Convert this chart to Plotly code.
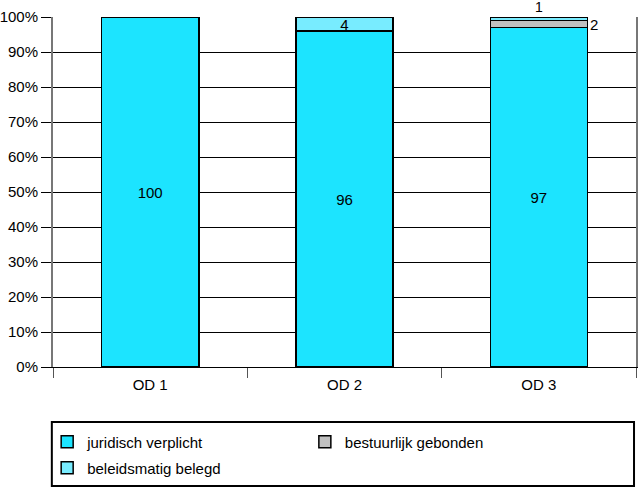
import plotly.graph_objects as go

categories = ["OD 1", "OD 2", "OD 3"]
juridisch = [100, 96, 97]
bestuurlijk = [0, 0, 2]
beleidsmatig = [0, 4, 1]

c_jur = "#1CE4FF"
c_bel = "#78ECFF"
c_bes = "#C0C0C0"
FS = 15

def lbl(vals, show):
    return [str(v) if s else "" for v, s in zip(vals, show)]

fig = go.Figure()
fig.add_trace(go.Bar(
    x=categories, y=juridisch, name="juridisch verplicht",
    marker=dict(color=c_jur, line=dict(color="black", width=1.5)),
    text=lbl(juridisch, [True, True, True]), textposition="inside",
    insidetextanchor="middle", textangle=0, textfont=dict(color="black", size=FS),
    legend="legend",
))
fig.add_trace(go.Bar(
    x=categories, y=bestuurlijk, name="bestuurlijk gebonden",
    marker=dict(color=c_bes, line=dict(color="black", width=1.5)),
    legend="legend2",
))
fig.add_trace(go.Bar(
    x=categories, y=beleidsmatig, name="beleidsmatig belegd",
    marker=dict(color=c_bel, line=dict(color="black", width=1.5)),
    text=lbl(beleidsmatig, [False, True, False]), textposition="inside",
    insidetextanchor="middle", textangle=0, textfont=dict(color="black", size=FS),
    constraintext="none",
    legend="legend3",
))

# small labels for OD 3
base3 = juridisch[2]
fig.add_annotation(x=categories[2], y=base3 + bestuurlijk[2] / 2, text=str(bestuurlijk[2]),
                   showarrow=False, xref="x", yref="y", xanchor="left", xshift=49,
                   font=dict(size=FS, color="black"))
fig.add_annotation(x=categories[2], y=base3 + bestuurlijk[2] + beleidsmatig[2], text=str(beleidsmatig[2]),
                   showarrow=False, xref="x", yref="y", yanchor="bottom", yshift=0,
                   font=dict(size=FS - 1, color="black"))

leg_common = dict(xanchor="left", yanchor="middle", font=dict(size=FS),
                  bgcolor="rgba(0,0,0,0)", itemwidth=30, orientation="v")
fig.update_layout(
    barmode="stack",
    bargap=0.5,
    width=638, height=495,
    margin=dict(l=53, r=2, t=17, b=128, autoexpand=False),
    paper_bgcolor="white", plot_bgcolor="white",
    font=dict(family="Liberation Sans, Arial, sans-serif", size=FS, color="black"),
    showlegend=True,
    legend=dict(x=-0.01, y=(367 - 442) / 350, **leg_common),
    legend2=dict(x=0.432, y=(367 - 442) / 350, **leg_common),
    legend3=dict(x=-0.01, y=(367 - 468) / 350, **leg_common),
    uniformtext=dict(mode="show", minsize=FS),
)
fig.update_yaxes(
    range=[0, 100], dtick=10, ticksuffix="%", automargin=False,
    showgrid=True, gridcolor="black", gridwidth=1,
    ticks="outside", ticklen=10, tickcolor="black",
    showline=True, linecolor="#777777", linewidth=2, mirror=True,
    zeroline=False,
)
fig.update_xaxes(
    ticks="outside", tickson="boundaries", ticklen=10, tickcolor="#555555", automargin=False,
    showline=True, linecolor="black", linewidth=1, ticklabelstandoff=4,
)
fig.add_shape(type="rect", xref="paper", yref="paper",
              x0=-0.002, x1=0.9966, y0=-0.34, y1=-0.157,
              line=dict(color="black", width=2), fillcolor="rgba(0,0,0,0)")

fig.write_html("out.html")
